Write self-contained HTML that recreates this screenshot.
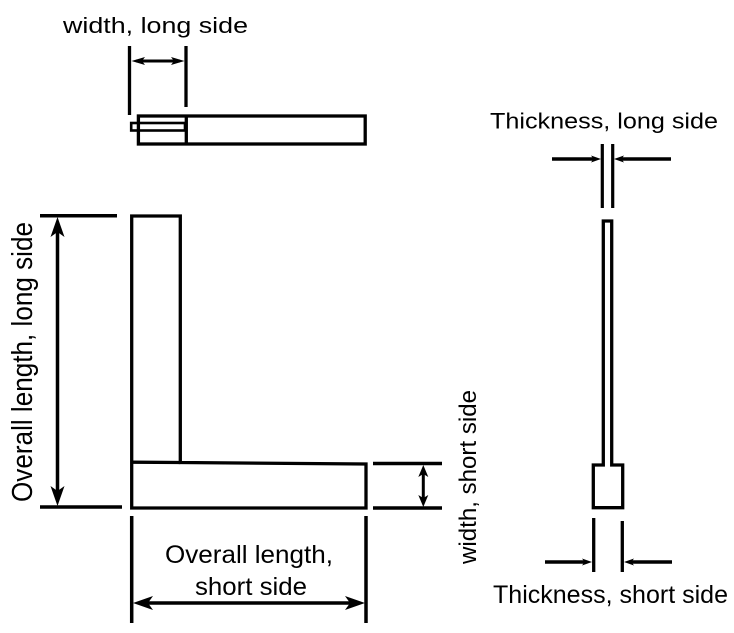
<!DOCTYPE html>
<html>
<head>
<meta charset="utf-8">
<style>
  html, body { margin: 0; padding: 0; background: #fff; }
  svg { display: block; }
  text { font-family: "Liberation Sans", sans-serif; fill: #000; }
</style>
</head>
<body>
<svg width="734" height="633" viewBox="0 0 734 633" xmlns="http://www.w3.org/2000/svg">
  <rect x="0" y="0" width="734" height="633" fill="#fff"/>

  <!-- ===== Top view ===== -->
  <g stroke="#000" fill="none" stroke-width="3.3">
    <line x1="129.5" y1="46" x2="129.5" y2="115"/>
    <line x1="186" y1="46" x2="186" y2="107"/>
    <rect x="138.4" y="116" width="226.8" height="28"/>
    <line x1="186.3" y1="116" x2="186.3" y2="144"/>
  </g>
  <rect x="131.2" y="123" width="53.8" height="7.5" fill="none" stroke="#000" stroke-width="2.6"/>
  <line x1="136" y1="61" x2="180" y2="61" stroke="#000" stroke-width="3"/>
  <path d="M131.5,61 L145,57 L142,61 L145,65 Z" fill="#000"/>
  <path d="M184.5,61 L171,57 L174,61 L171,65 Z" fill="#000"/>
  <text x="63" y="33" font-size="22" textLength="185" lengthAdjust="spacingAndGlyphs">width, long side</text>

  <!-- ===== Main L shape ===== -->
  <g stroke="#000" fill="none" stroke-width="3.3" stroke-linejoin="miter">
    <path d="M131.7,216 L180.3,216 L180.3,462.5 L366,464 L366,508 L131.7,508 Z"/>
    <line x1="131.7" y1="462.2" x2="180.3" y2="462.5"/>
  </g>

  <!-- Overall length, long side -->
  <g stroke="#000" stroke-width="3.5">
    <line x1="40" y1="215.7" x2="117" y2="215.7"/>
    <line x1="40" y1="507" x2="122" y2="507"/>
    <line x1="57.5" y1="226" x2="57.5" y2="497"/>
  </g>
  <path d="M57.5,217 L50.5,237 L57.5,232 L64.5,237 Z" fill="#000"/>
  <path d="M57.5,506 L50.5,486 L57.5,491 L64.5,486 Z" fill="#000"/>
  <text transform="translate(32,502) rotate(-90)" font-size="29" textLength="280" lengthAdjust="spacingAndGlyphs">Overall length, long side</text>

  <!-- width, short side -->
  <g stroke="#000" stroke-width="3.5">
    <line x1="373" y1="463.5" x2="442" y2="463.5"/>
    <line x1="373" y1="508" x2="442" y2="508"/>
  </g>
  <line x1="423.3" y1="470" x2="423.3" y2="502" stroke="#000" stroke-width="3"/>
  <path d="M423.3,465 L418.3,477 L423.3,474 L428.3,477 Z" fill="#000"/>
  <path d="M423.3,507 L418.3,495 L423.3,498 L428.3,495 Z" fill="#000"/>
  <text transform="translate(476,564) rotate(-90)" font-size="24" textLength="174" lengthAdjust="spacingAndGlyphs">width, short side</text>

  <!-- Overall length, short side -->
  <g stroke="#000" stroke-width="3.5">
    <line x1="131.7" y1="516" x2="131.7" y2="623"/>
    <line x1="366" y1="516" x2="366" y2="623"/>
    <line x1="142" y1="603" x2="356" y2="603"/>
  </g>
  <path d="M133,603 L153,596 L148,603 L153,610 Z" fill="#000"/>
  <path d="M365,603 L345,596 L350,603 L345,610 Z" fill="#000"/>
  <text x="165" y="563" font-size="25" textLength="168" lengthAdjust="spacingAndGlyphs">Overall length,</text>
  <text x="195" y="595" font-size="25" textLength="112" lengthAdjust="spacingAndGlyphs">short side</text>

  <!-- ===== Side view (thickness) ===== -->
  <text x="490" y="128.5" font-size="22" textLength="228" lengthAdjust="spacingAndGlyphs">Thickness, long side</text>
  <g stroke="#000" stroke-width="3.2">
    <line x1="602.3" y1="144" x2="602.3" y2="208"/>
    <line x1="612.7" y1="144" x2="612.7" y2="208"/>
  </g>
  <g stroke="#000" stroke-width="3.5">
    <line x1="552" y1="159" x2="595" y2="159"/>
    <line x1="620" y1="159" x2="671" y2="159"/>
  </g>
  <path d="M601,159 L591,155.5 L593.5,159 L591,162.5 Z" fill="#000"/>
  <path d="M614,159 L624,155.5 L621.5,159 L624,162.5 Z" fill="#000"/>

  <path d="M603.3,465 L603.3,221 L611.7,221 L611.7,465 L622.7,465 L622.7,507.7 L593.3,507.7 L593.3,465 Z"
        fill="none" stroke="#000" stroke-width="3.3" stroke-linejoin="miter"/>

  <g stroke="#000" stroke-width="3.3">
    <line x1="593.7" y1="518" x2="593.7" y2="572"/>
    <line x1="622.3" y1="521" x2="622.3" y2="572"/>
  </g>
  <g stroke="#000" stroke-width="3.5">
    <line x1="545" y1="562" x2="586" y2="562"/>
    <line x1="630" y1="562" x2="672" y2="562"/>
  </g>
  <path d="M592,562 L582,558.5 L584.5,562 L582,565.5 Z" fill="#000"/>
  <path d="M624,562 L634,558.5 L631.5,562 L634,565.5 Z" fill="#000"/>
  <text x="493" y="603" font-size="25" textLength="235" lengthAdjust="spacingAndGlyphs">Thickness, short side</text>
</svg>
</body>
</html>
